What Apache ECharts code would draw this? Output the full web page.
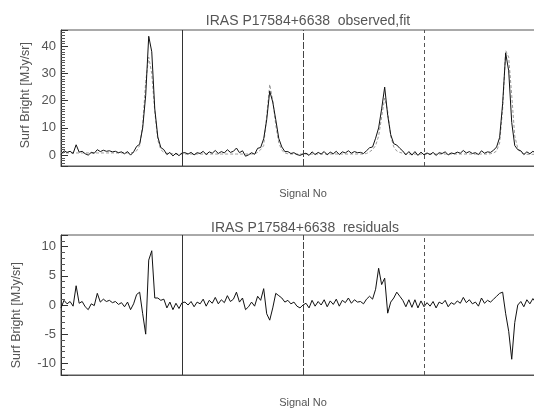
<!DOCTYPE html>
<html><head><meta charset="utf-8">
<script src="https://cdn.jsdelivr.net/npm/echarts/dist/echarts.min.js"></script>
<style>html,body{margin:0;padding:0;background:#fff}#c{width:534px;height:408px}</style>
</head><body><div id="c"></div>
<script>
// Signal numbers are sampled every STEP signals starting at 0
const STEP = 3;
const titleTop = 'IRAS P17584+6638  observed,fit';
const titleBottom = 'IRAS P17584+6638  residuals';
const xName = 'Signal No';
const yName = 'Surf Bright [MJy/sr]';
const scanBoundaries = [120, 240, 360];

const observed = [
 0.3,1.6,1.0,1.4,0.6,3.8,1.1,1.4,0.5,0.0,1.0,0.7,2.0,1.3,1.8,1.4,1.6,1.2,1.4,0.9,
 1.2,0.5,1.3,0.0,1.2,3.2,4.0,10,22,43.7,38,17,6.7,2.8,2.0,0.2,1.0,-0.3,0.7,-0.2,
 0.8,0.9,0.4,1.0,0.1,0.9,0.6,1.4,0.2,1.2,0.7,1.7,0.6,1.3,0.8,2.0,1.0,1.4,2.6,0.9,
 1.6,-0.4,0.1,0.9,0.3,2.5,2.8,6.0,13,23.5,19.5,13,6.1,3.0,1.3,1.3,0.6,0.9,0.2,-0.1,
 0.4,0.7,-0.1,1.2,0.2,1.0,0.4,1.3,0.1,1.1,0.5,1.4,0.2,1.2,0.8,1.6,0.7,1.3,0.9,1.0,
 0.6,1.6,2.7,3.0,6.2,10,17,25,14.6,7.5,4.2,3.7,2.5,1.5,0.1,1.3,0.0,1.3,-0.1,1.1,
 0.1,0.8,0.2,1.0,-0.1,0.9,0.6,1.2,0.1,0.8,0.5,1.1,0.7,1.7,0.8,1.3,0.6,0.9,0.2,1.6,
 0.7,1.2,1.0,1.8,3.0,6.5,19,37.5,31,12,3.5,2.0,1.6,0.2,1.2,0.5,1.4,0.7,1.1,0.6
];
const fitted = [
 0.8,0.8,0.8,0.8,0.8,0.8,0.8,0.8,0.8,0.8,0.8,0.8,0.8,0.8,0.8,0.8,0.8,0.8,0.8,0.8,
 0.8,0.8,0.8,0.8,1.0,1.6,3.5,11,27,36,30,16,5.5,2.0,1.0,0.7,0.5,0.5,0.4,0.4,
 0.4,0.4,0.4,0.4,0.4,0.4,0.4,0.4,0.4,0.4,0.4,0.4,0.4,0.4,0.4,0.4,0.4,0.4,0.4,0.4,
 0.4,0.4,0.4,0.4,0.5,1.0,2.0,3.5,14.5,26,20,11,4.5,1.8,0.8,0.5,0.4,0.4,0.4,0.4,
 0.4,0.4,0.4,0.4,0.4,0.4,0.4,0.4,0.4,0.4,0.4,0.4,0.4,0.4,0.4,0.4,0.4,0.4,0.4,0.4,
 0.4,0.6,1.2,2.0,3.5,7,14,21,16,7,3,1.5,1.0,0.7,0.4,0.4,0.4,0.4,0.4,0.4,
 0.4,0.4,0.4,0.4,0.4,0.4,0.4,0.4,0.4,0.4,0.4,0.4,0.4,0.4,0.4,0.4,0.4,0.4,0.4,0.4,
 0.4,0.4,0.5,0.8,1.5,4.5,17,38.5,36,22,7,2.5,1.0,0.5,0.3,0.3,0.3,0.3,0.3,0.3
];
const residual = [
 -0.5,0.8,0.2,0.6,-0.2,3.3,0.3,0.6,-0.3,-0.8,0.2,-0.1,2.0,0.5,1.0,0.6,0.8,0.4,0.6,0.1,
 0.4,-0.3,0.5,-0.8,0.2,1.8,2.2,-1.5,-5.0,7.7,9.3,1.2,1.2,0.8,1.0,-0.5,0.5,-0.8,0.3,-0.6,
 0.4,0.5,0.0,0.6,-0.3,0.5,0.2,1.0,-0.2,0.8,0.3,1.3,0.2,0.9,0.4,1.6,0.6,1.0,2.2,0.5,
 1.2,-0.8,-0.3,0.5,-0.2,1.5,0.8,2.8,-1.5,-2.6,-0.5,2.0,1.6,1.2,0.5,0.8,0.2,0.5,-0.2,-0.5,
 0.0,0.3,-0.5,0.8,-0.2,0.6,0.0,0.9,-0.3,0.7,0.1,1.0,-0.2,0.8,0.4,1.2,0.3,0.9,0.5,0.6,
 0.2,1.0,1.5,1.0,2.7,6.3,3.5,4.6,-1.4,0.5,1.2,2.2,1.5,0.8,-0.3,0.9,-0.4,0.9,-0.5,0.7,
 -0.3,0.4,-0.2,0.6,-0.5,0.5,0.2,0.8,-0.3,0.4,0.1,0.7,0.3,1.3,0.4,0.9,0.2,0.5,-0.2,1.2,
 0.3,0.8,0.5,1.0,1.5,2.0,2.2,-1.5,-4.5,-9.3,-3.0,0.0,0.6,-0.3,0.9,0.2,1.1,0.4,0.8,0.3
];

const toXY = arr => arr.map((v, i) => [i * STEP, v]);
const font = 'Liberation Sans';
const txt = '#555';

function yAxis(grid, min, max, major, minorSplit) {
  return {
    type: 'value', gridIndex: grid, min: min, max: max, splitNumber: 5,
    axisLine: {show: true, lineStyle: {color: '#333', width: 1}},
    axisTick: {show: true, inside: true, length: 7, lineStyle: {color: '#333'}},
    minorTick: {show: true, splitNumber: minorSplit, length: 4, lineStyle: {color: '#555'}},
    splitLine: {show: false},
    axisLabel: {color: txt, fontSize: 13, fontFamily: font, margin: 5,
      formatter: v => (Math.abs(v % major) < 1e-9 ? String(v) : '')}
  };
}
function xAxis(grid) {
  return {
    type: 'value', gridIndex: grid, min: 0, max: 480,
    axisLine: {show: true, onZero: false, lineStyle: {color: '#555'}},
    axisTick: {show: false}, axisLabel: {show: false}, splitLine: {show: false},
    name: xName, nameLocation: 'middle', nameGap: 22,
    nameTextStyle: {color: txt, fontSize: 11, fontFamily: font}
  };
}
const markLines = {
  silent: true, symbol: 'none', animation: false, label: {show: false},
  data: [
    {xAxis: scanBoundaries[0], lineStyle: {color: '#333', width: 1, type: 'solid'}},
    {xAxis: scanBoundaries[1], lineStyle: {color: '#444', width: 1, type: [7, 2]}},
    {xAxis: scanBoundaries[2], lineStyle: {color: '#555', width: 1, type: [4, 3]}}
  ]
};

const chart = echarts.init(document.getElementById('c'), null, {renderer: 'canvas'});
chart.setOption({
  animation: false,
  backgroundColor: '#fff',
  title: [
    {text: titleTop, left: 303, top: 9, textAlign: 'center',
     textStyle: {color: txt, fontSize: 14, fontWeight: 'normal', fontFamily: font}},
    {text: titleBottom, left: 300, top: 216, textAlign: 'center',
     textStyle: {color: txt, fontSize: 14, fontWeight: 'normal', fontFamily: font}}
  ],
  grid: [
    {left: 61, top: 30, width: 484, height: 136, show: true, borderColor: '#555', borderWidth: 1, outerBoundsMode: 'none', containLabel: false},
    {left: 61, top: 235, width: 484, height: 140, show: true, borderColor: '#555', borderWidth: 1, outerBoundsMode: 'none', containLabel: false}
  ],
  xAxis: [xAxis(0), xAxis(1)],
  yAxis: [yAxis(0, -4, 46, 10, 10), yAxis(1, -12, 12, 5, 5)],
  graphic: [
    {type: 'text', left: 19, top: 42, rotation: Math.PI / 2, style: {text: yName, fill: txt, font: '12.5px "Liberation Sans"'}},
    {type: 'text', left: 10, top: 262, rotation: Math.PI / 2, style: {text: yName, fill: txt, font: '12.5px "Liberation Sans"'}}
  ],
  series: [
    {type: 'line', xAxisIndex: 0, yAxisIndex: 0, data: toXY(fitted), showSymbol: false,
     lineStyle: {color: '#999', width: 1, type: [3, 2]}, z: 2},
    {type: 'line', xAxisIndex: 0, yAxisIndex: 0, data: toXY(observed), showSymbol: false,
     lineStyle: {color: '#111', width: 1}, z: 3, markLine: markLines},
    {type: 'line', xAxisIndex: 1, yAxisIndex: 1, data: toXY(residual), showSymbol: false,
     lineStyle: {color: '#111', width: 1}, z: 3, markLine: markLines}
  ]
});
</script></body></html>
